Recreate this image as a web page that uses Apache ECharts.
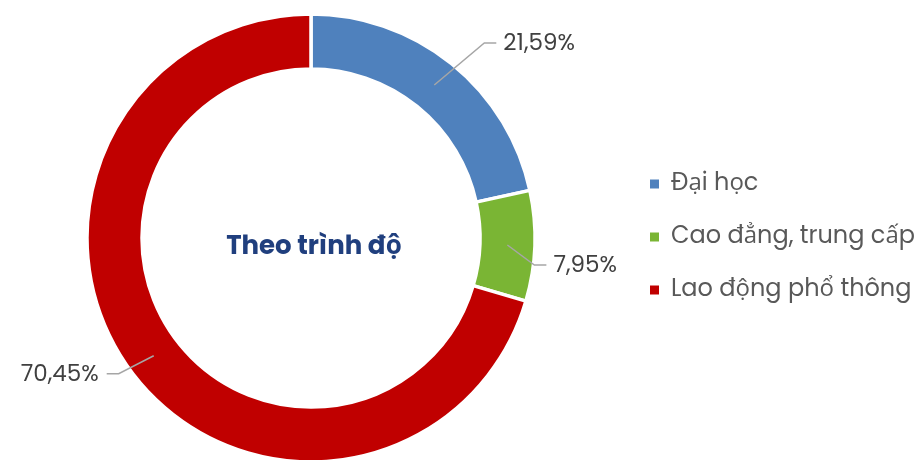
<!DOCTYPE html>
<html>
<head>
<meta charset="utf-8">
<script src="https://cdn.jsdelivr.net/npm/echarts@6/dist/echarts.min.js"></script>
<style>
  html, body { margin: 0; padding: 0; background: #ffffff; }
  #chart { width: 924px; height: 460px; }
</style>
</head>
<body>
<div id="chart"></div>
<script>
// Cơ cấu lao động theo trình độ (%)
const categories = ['Đại học', 'Cao đẳng, trung cấp', 'Lao động phổ thông'];
const shares = [21.59, 7.95, 70.45];
const valueLabels = ['21,59%', '7,95%', '70,45%'];
const sliceColors = ['#4f81bd', '#7ab534', '#c00000'];
const centerTitle = 'Theo trình độ';

// ring geometry (px)
const CX = 311, CY = 238, R_IN = 169, R_OUT = 224;
const R_MID = (R_IN + R_OUT) / 2;
// elbow offset of each leader line, relative to its start inside the ring
const labelElbow = [[50, -42], [27, 20], [-35, 18]];

const FONT = 'Poppins, "Open Sans", Lato, sans-serif';

const sliceData = categories.map((name, i) => ({ name: name, value: shares[i] }));

const chart = echarts.init(document.getElementById('chart'), null, { renderer: 'canvas' });

chart.setOption({
  backgroundColor: '#ffffff',
  animation: false,
  color: sliceColors,
  title: {
    text: centerTitle,
    left: CX - 2, top: CY + 4,
    textAlign: 'center', textVerticalAlign: 'middle',
    textStyle: { fontFamily: FONT, fontSize: 26, fontWeight: 'bold', color: '#203f7e' }
  },
  legend: {
    orient: 'vertical',
    left: 648, top: 172,
    padding: 0,
    icon: 'rect', itemWidth: 11, itemHeight: 11,
    itemGap: 29,
    selectedMode: false,
    textStyle: { fontFamily: FONT, fontSize: 24, lineHeight: 24, color: '#595959', padding: [0, 0, 0, 6] },
    data: categories
  },
  series: [{
    // the ring itself
    type: 'pie',
    center: [CX, CY],
    radius: [R_IN, R_OUT],
    startAngle: 90,
    clockwise: true,
    z: 2,
    itemStyle: { borderColor: '#ffffff', borderWidth: 3.5 },
    emphasis: { disabled: true },
    label: { show: false },
    labelLine: { show: false },
    data: sliceData
  }, {
    // value labels with leader lines drawn over the ring
    type: 'pie',
    center: [CX, CY],
    radius: [0, R_MID],
    startAngle: 90,
    clockwise: true,
    z: 3,
    silent: true,
    legendHoverLink: false,
    itemStyle: { color: 'rgba(0,0,0,0)', borderWidth: 0 },
    emphasis: { disabled: true },
    data: sliceData,
    label: {
      show: true,
      position: 'outside',
      formatter: (p) => valueLabels[p.dataIndex],
      fontFamily: FONT, fontSize: 23, color: '#404040'
    },
    labelLine: {
      show: true, length: 30, length2: 12,
      lineStyle: { color: '#a6a6a6', width: 1.5 }
    },
    labelLayout: (params) => {
      const i = params.dataIndex;
      const pts = params.labelLinePoints;
      if (!pts) return {};
      const p0 = pts[0];
      const p1 = [p0[0] + labelElbow[i][0], p0[1] + labelElbow[i][1]];
      const right = labelElbow[i][0] >= 0;
      const p2 = [p1[0] + (right ? 12 : -12), p1[1]];
      return {
        x: p2[0] + (right ? 7 : -8),
        y: p2[1] + 1,
        align: right ? 'left' : 'right',
        verticalAlign: 'middle',
        labelLinePoints: [p0, p1, p2]
      };
    }
  }]
});
</script>
</body>
</html>
